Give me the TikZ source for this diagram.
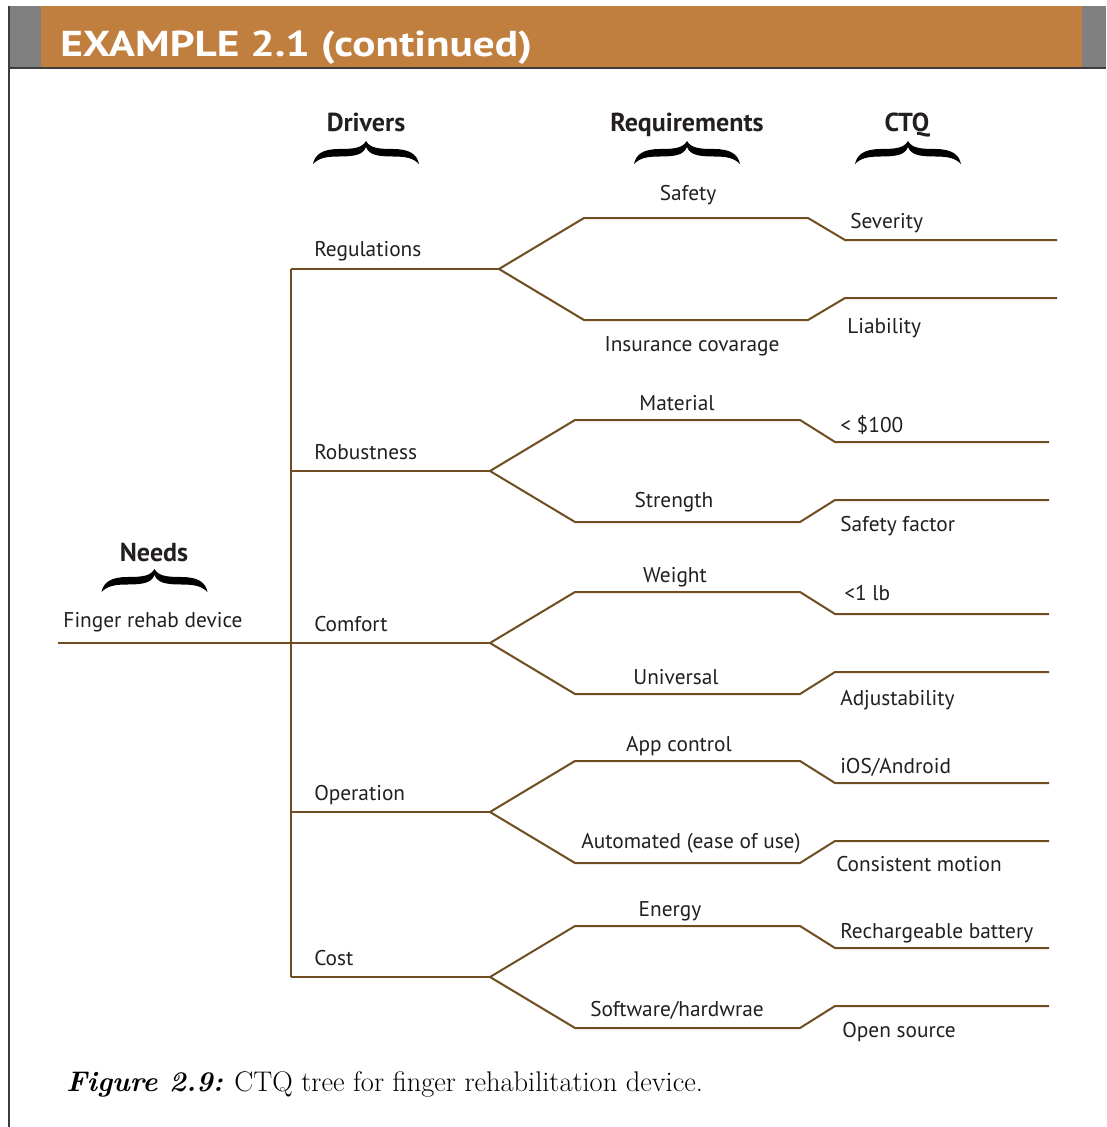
\documentclass[tikz,border=0pt]{standalone}
\usepackage{fontspec}
\usepackage{graphicx}
\newfontfamily\lblfont{PT Sans}
\definecolor{branch}{RGB}{111,77,33}
\definecolor{ink}{RGB}{35,31,32}
\definecolor{bandorange}{RGB}{193,127,63}
\definecolor{bandgray}{RGB}{128,128,128}
\definecolor{frame}{RGB}{60,60,60}
\begin{document}
\begin{tikzpicture}[x=0.75pt,y=-0.75pt,
  tree/.style={draw=branch, line width=1.5pt},
  lbl/.style={font=\lblfont\fontsize{16}{19}\selectfont, text=ink, inner sep=0pt},
  head/.style={font=\lblfont\bfseries\fontsize{19.5}{23}\selectfont, text=ink, inner sep=0pt, anchor=base},
  topbrace/.pic={
    \fill[black] (0,0) .. controls (4,7) and (12,8) .. (27,8)
      .. controls (43,8) and (51,13) .. (53,23)
      .. controls (47,17) and (40,15.5) .. (27,15.5)
      .. controls (12,15.5) and (3,14) .. (0,6)
      .. controls (-3,14) and (-12,15.5) .. (-27,15.5)
      .. controls (-40,15.5) and (-47,17) .. (-53,23)
      .. controls (-51,13) and (-43,8) .. (-27,8)
      .. controls (-12,8) and (-4,7) .. (0,0) -- cycle;
  }]
\useasboundingbox (0,0) rectangle (1106,1127);
\fill[white] (0,0) rectangle (1106,1127);

% header band
\fill[bandgray] (9,6) rectangle (1106,68);
\fill[bandorange] (41,6) rectangle (1082,68);
\draw[frame, line width=1.2pt] (9,68) -- (1106,68);
\draw[frame, line width=1.2pt] (9,6) -- (9,1127);
\node[anchor=base west, inner sep=0pt, text=white] (title) at (60,57)
  {\resizebox{354pt}{\height}{\lblfont\bfseries\fontsize{27}{31}\selectfont EXAMPLE 2.1 (continued)}};

% column headings with braces
\node[head] (hdrivers) at (366,132) {Drivers};
\node[head] (hreq) at (687,132) {Requirements};
\node[head] (hctq) at (907,132) {CTQ};
\node[head] (hneeds) at (154,561) {Needs};
\pic at (366,141) {topbrace};
\pic at (687,141) {topbrace};
\pic at (908,141) {topbrace};
\pic at (154.5,569) {topbrace};

% tree: one driver per row, each splitting into two requirements and two CTQs
\foreach \nm/\y/\bx/\ra/\rb/\cx/\ex in {
    reg/269/499/584/808/845/1057,
    rob/471/490/575/800/835/1049,
    com/643/490/575/800/835/1049,
    ope/812/490/575/800/835/1049,
    cos/977/490/575/800/835/1049}{
  \coordinate (\nm-d) at (291,\y);
  \coordinate (\nm-b) at (\bx,\y);
  \coordinate (\nm-ua) at (\ra,\y-51);
  \coordinate (\nm-ub) at (\rb,\y-51);
  \coordinate (\nm-uc) at (\cx,\y-29);
  \coordinate (\nm-ue) at (\ex,\y-29);
  \coordinate (\nm-la) at (\ra,\y+51);
  \coordinate (\nm-lb) at (\rb,\y+51);
  \coordinate (\nm-lc) at (\cx,\y+29);
  \coordinate (\nm-le) at (\ex,\y+29);
  \draw[tree] (\nm-d) -- (\nm-b);
  \draw[tree] (\nm-b) -- (\nm-ua) -- (\nm-ub) -- (\nm-uc) -- (\nm-ue);
  \draw[tree] (\nm-b) -- (\nm-la) -- (\nm-lb) -- (\nm-lc) -- (\nm-le);
}
\coordinate (root) at (58,643);
\draw[tree] (reg-d) -- (cos-d);
\draw[tree] (root) -- (com-d);

% needs
\node[lbl, anchor=base] (need) at (153,627) {Finger rehab device};

% drivers
\node[lbl, anchor=base west] (dreg) at (314,256) {Regulations};
\node[lbl, anchor=base west] (drob) at (314,459) {Robustness};
\node[lbl, anchor=base west] (dcom) at (314,631) {Comfort};
\node[lbl, anchor=base west] (dope) at (314,800) {Operation};
\node[lbl, anchor=base west] (dcos) at (314,965) {Cost};

% requirements
\node[lbl, anchor=base] (r1) at (688,200) {Safety};
\node[lbl, anchor=base] (r2) at (692,351) {Insurance covarage};
\node[lbl, anchor=base] (r3) at (677,410) {Material};
\node[lbl, anchor=base] (r4) at (674,507) {Strength};
\node[lbl, anchor=base] (r5) at (675,582) {Weight};
\node[lbl, anchor=base] (r6) at (676,684) {Universal};
\node[lbl, anchor=base] (r7) at (679,751) {App control};
\node[lbl, anchor=base] (r8) at (691,848) {Automated (ease of use)};
\node[lbl, anchor=base] (r9) at (670,916) {Energy};
\node[lbl, anchor=base] (r10) at (677,1016) {Software/hardwrae};

% CTQs
\node[lbl, anchor=base west] (c1) at (850,228) {Severity};
\node[lbl, anchor=base west] (c2) at (847,333) {Liability};
\node[lbl, anchor=base west] (c3) at (840,432) {< \$100};
\node[lbl, anchor=base west] (c4) at (840,531) {Safety factor};
\node[lbl, anchor=base west] (c5) at (844,600) {<1 lb};
\node[lbl, anchor=base west] (c6) at (840,705) {Adjustability};
\node[lbl, anchor=base west] (c7) at (840,773) {iOS/Android};
\node[lbl, anchor=base west] (c8) at (836,871) {Consistent motion};
\node[lbl, anchor=base west] (c9) at (840,938) {Rechargeable battery};
\node[lbl, anchor=base west] (c10) at (842,1037) {Open source};

% caption
\node[anchor=base west, inner sep=0pt, text=black] (caption) at (66,1091)
  {\fontsize{21.3}{25}\selectfont\textbf{\textit{Figure 2.9:}} CTQ tree for finger rehabilitation device.};
\end{tikzpicture}
\end{document}
